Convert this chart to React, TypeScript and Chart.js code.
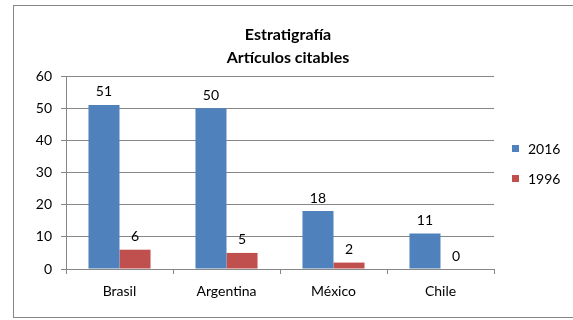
import React, { useEffect, useRef } from "react";
import { Chart, registerables } from "chart.js";

Chart.register(...registerables);

const categories = ["Brasil", "Argentina", "México", "Chile"];
const series2016 = [51, 50, 18, 11];
const series1996 = [6, 5, 2, 0];
const seriesNames = ["2016", "1996"];
const titleLines = ["Estratigrafía", "Artículos citables"];
const yTicks = [0, 10, 20, 30, 40, 50, 60];

const BLUE = "#4F81BD";
const RED = "#C0504D";
const AXIS = "#868686";
const FONT = "Lato, 'Open Sans', sans-serif";

// Outer frame, two-line title, value labels and the side legend
const decorations = {
  id: "decorations",
  afterDraw(chart: any) {
    const ctx = chart.ctx as CanvasRenderingContext2D;
    ctx.save();
    ctx.strokeStyle = AXIS;
    ctx.lineWidth = 1;
    ctx.strokeRect(13.5, 5.5, 620, 312);

    // title
    ctx.fillStyle = "#000";
    ctx.font = `bold 16px ${FONT}`;
    ctx.textAlign = "center";
    ctx.textBaseline = "middle";
    titleLines.forEach((t, i) => ctx.fillText(t, 288, 35 + i * 23));

    // value labels
    ctx.font = `14px ${FONT}`;
    chart.data.datasets.forEach((ds: any, di: number) => {
      const meta = chart.getDatasetMeta(di);
      meta.data.forEach((bar: any, i: number) => {
        ctx.fillText(String(ds.data[i]), bar.x, bar.y - 13);
      });
    });

    // legend
    ctx.textAlign = "left";
    chart.data.datasets.forEach((ds: any, di: number) => {
      const y = 148 + di * 30;
      ctx.fillStyle = ds.backgroundColor;
      ctx.fillRect(512, y - 3, 7, 7);
      ctx.fillStyle = "#000";
      ctx.fillText(ds.label, 528, y + 1);
    });
    ctx.restore();
  },
};

export default function App() {
  const ref = useRef<HTMLCanvasElement>(null);

  useEffect(() => {
    if (!ref.current) return;
    const chart = new Chart(ref.current, {
      type: "bar",
      data: {
        labels: categories,
        datasets: [
          { label: seriesNames[0], data: series2016, backgroundColor: BLUE },
          { label: seriesNames[1], data: series1996, backgroundColor: RED },
        ],
      },
      options: {
        animation: false,
        responsive: false,
        layout: { padding: { left: 0, top: 76, right: 79, bottom: 0 } },
        datasets: {
          bar: { categoryPercentage: 0.58, barPercentage: 1 },
        },
        plugins: {
          legend: { display: false },
          title: { display: false },
          tooltip: { enabled: false },
        },
        scales: {
          x: {
            afterFit(scale: any) {
              scale.height = 51;
            },
            grid: {
              offset: true,
              drawOnChartArea: false,
              drawTicks: true,
              tickLength: 5,
              color: AXIS,
            },
            border: { color: AXIS },
            ticks: { color: "#000", padding: 9, font: { family: FONT, size: 14 } },
          },
          y: {
            min: 0,
            max: 60,
            afterFit(scale: any) {
              scale.width = 66;
            },
            afterBuildTicks(scale: any) {
              scale.ticks = yTicks.map((v) => ({ value: v }));
            },
            grid: { color: AXIS, tickLength: 5 },
            border: { color: AXIS },
            ticks: { color: "#000", padding: 9, font: { family: FONT, size: 14 } },
          },
        },
      },
      plugins: [decorations],
    });
    return () => chart.destroy();
  }, []);

  return (
    <div style={{ position: "fixed", left: 0, top: 0, width: 573, height: 320, background: "#fff" }}>
      <canvas ref={ref} width={573} height={320} style={{ width: 573, height: 320 }} />
    </div>
  );
}
